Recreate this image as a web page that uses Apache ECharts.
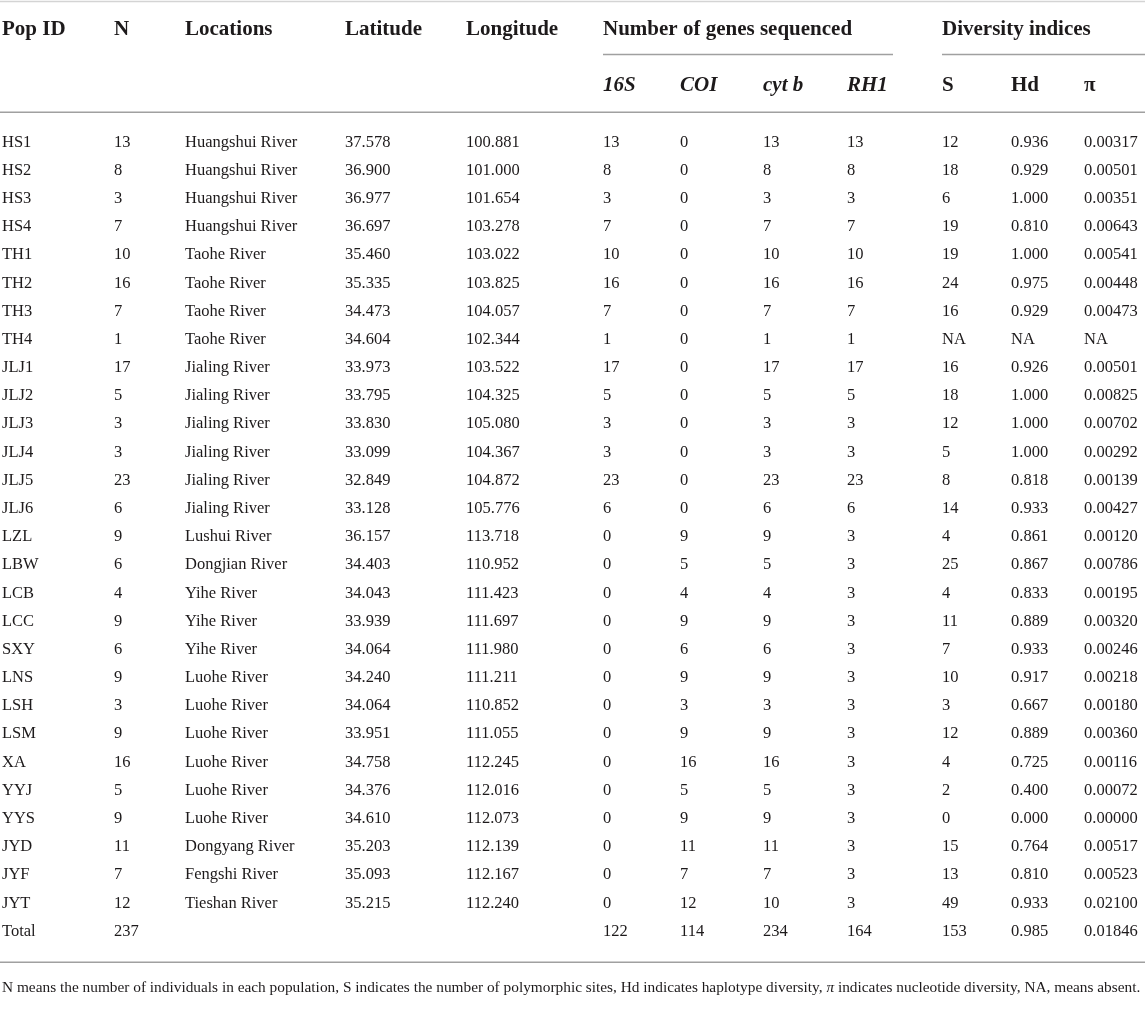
<!DOCTYPE html>
<html lang="en">
<head>
    <meta charset="UTF-8">
    <title>Sampling and diversity table</title>
    <style>
        html, body { margin: 0; padding: 0; background: #fff; }
        #main { width: 1145px; height: 1019px; }
    </style>
</head>
<body>
<div id="main"></div>
<script src="https://cdn.jsdelivr.net/npm/echarts@6/dist/echarts.min.js"></script>
<script>
var popIds = ['HS1', 'HS2', 'HS3', 'HS4', 'TH1', 'TH2', 'TH3', 'TH4', 'JLJ1', 'JLJ2', 'JLJ3', 'JLJ4', 'JLJ5', 'JLJ6',
    'LZL', 'LBW', 'LCB', 'LCC', 'SXY', 'LNS', 'LSH', 'LSM', 'XA', 'YYJ', 'YYS', 'JYD', 'JYF', 'JYT'];
var sampleN = [13, 8, 3, 7, 10, 16, 7, 1, 17, 5, 3, 3, 23, 6, 9, 6, 4, 9, 6, 9, 3, 9, 16, 5, 9, 11, 7, 12];
var locations = ['Huangshui River', 'Huangshui River', 'Huangshui River', 'Huangshui River',
    'Taohe River', 'Taohe River', 'Taohe River', 'Taohe River',
    'Jialing River', 'Jialing River', 'Jialing River', 'Jialing River', 'Jialing River', 'Jialing River',
    'Lushui River', 'Dongjian River', 'Yihe River', 'Yihe River', 'Yihe River',
    'Luohe River', 'Luohe River', 'Luohe River', 'Luohe River', 'Luohe River', 'Luohe River',
    'Dongyang River', 'Fengshi River', 'Tieshan River'];
var latitude = [37.578, 36.900, 36.977, 36.697, 35.460, 35.335, 34.473, 34.604, 33.973, 33.795, 33.830, 33.099, 32.849, 33.128,
    36.157, 34.403, 34.043, 33.939, 34.064, 34.240, 34.064, 33.951, 34.758, 34.376, 34.610, 35.203, 35.093, 35.215];
var longitude = [100.881, 101.000, 101.654, 103.278, 103.022, 103.825, 104.057, 102.344, 103.522, 104.325, 105.080, 104.367, 104.872, 105.776,
    113.718, 110.952, 111.423, 111.697, 111.980, 111.211, 110.852, 111.055, 112.245, 112.016, 112.073, 112.139, 112.167, 112.240];
var gene16S = [13, 8, 3, 7, 10, 16, 7, 1, 17, 5, 3, 3, 23, 6, 0, 0, 0, 0, 0, 0, 0, 0, 0, 0, 0, 0, 0, 0];
var geneCOI = [0, 0, 0, 0, 0, 0, 0, 0, 0, 0, 0, 0, 0, 0, 9, 5, 4, 9, 6, 9, 3, 9, 16, 5, 9, 11, 7, 12];
var geneCytb = [13, 8, 3, 7, 10, 16, 7, 1, 17, 5, 3, 3, 23, 6, 9, 5, 4, 9, 6, 9, 3, 9, 16, 5, 9, 11, 7, 10];
var geneRH1 = [13, 8, 3, 7, 10, 16, 7, 1, 17, 5, 3, 3, 23, 6, 3, 3, 3, 3, 3, 3, 3, 3, 3, 3, 3, 3, 3, 3];
var sitesS = [12, 18, 6, 19, 19, 24, 16, null, 16, 18, 12, 5, 8, 14, 4, 25, 4, 11, 7, 10, 3, 12, 4, 2, 0, 15, 13, 49];
var hapHd = [0.936, 0.929, 1.000, 0.810, 1.000, 0.975, 0.929, null, 0.926, 1.000, 1.000, 1.000, 0.818, 0.933,
    0.861, 0.867, 0.833, 0.889, 0.933, 0.917, 0.667, 0.889, 0.725, 0.400, 0.000, 0.764, 0.810, 0.933];
var nucPi = [0.00317, 0.00501, 0.00351, 0.00643, 0.00541, 0.00448, 0.00473, null, 0.00501, 0.00825, 0.00702, 0.00292, 0.00139, 0.00427,
    0.00120, 0.00786, 0.00195, 0.00320, 0.00246, 0.00218, 0.00180, 0.00360, 0.00116, 0.00072, 0.00000, 0.00517, 0.00523, 0.02100];
// Total row: N, 16S, COI, cyt b, RH1, S, Hd, pi
var totalRow = [237, 122, 114, 234, 164, 153, 0.985, 0.01846];

var headers = ['Pop ID', 'N', 'Locations', 'Latitude', 'Longitude'];
var groupHeaders = ['Number of genes sequenced', 'Diversity indices'];
var subHeaders = ['16S', 'COI', 'cyt b', 'RH1', 'S', 'Hd', 'π'];
var footnote = 'N means the number of individuals in each population, S indicates the number of polymorphic sites, ' +
    'Hd indicates haplotype diversity, {pi|π} indicates nucleotide diversity, NA, means absent.';

// layout
var colX = [2, 114, 185, 345, 466, 603, 680, 763, 847, 942, 1011, 1084];
var FONT = '"Liberation Serif", "DejaVu Serif", serif';
var INK = '#1d1a1b';
var RULE = '#a0a0a0';

function fmt(v, d) {
    if (v === null) return 'NA';
    return d ? v.toFixed(d) : String(v);
}

var cells = [];
function addCell(col, slot, text, style) {
    cells.push({ value: [colX[col], slot], text: text, style: style || 'body' });
}
// header rows
for (var i = 0; i < headers.length; i++) addCell(i, 1, headers[i], 'head');
addCell(5, 1, groupHeaders[0], 'head');
addCell(9, 1, groupHeaders[1], 'head');
for (var i = 0; i < subHeaders.length; i++) addCell(5 + i, 3, subHeaders[i], i < 4 ? 'headItalic' : 'head');
// body rows
for (var r = 0; r < popIds.length; r++) {
    var slot = 5 + r;
    var row = [popIds[r], fmt(sampleN[r]), locations[r], fmt(latitude[r], 3), fmt(longitude[r], 3),
        fmt(gene16S[r]), fmt(geneCOI[r]), fmt(geneCytb[r]), fmt(geneRH1[r]),
        fmt(sitesS[r]), fmt(hapHd[r], 3), fmt(nucPi[r], 5)];
    for (var c = 0; c < row.length; c++) addCell(c, slot, row[c]);
}
var totalSlot = 5 + popIds.length;
addCell(0, totalSlot, 'Total');
addCell(1, totalSlot, fmt(totalRow[0]));
for (var i = 1; i < totalRow.length; i++) {
    var d = i === 6 ? 3 : (i === 7 ? 5 : 0);
    addCell(4 + i, totalSlot, fmt(totalRow[i], d));
}
addCell(0, totalSlot + 2, footnote, 'note');

// rules: [x1, x2, slot, kind]
var rules = [
    [0, 1145, 0, 0],
    [603, 893, 1.88, 1],
    [942, 1145, 1.88, 1],
    [0, 1145, 3.93, 1],
    [0, 1145, totalSlot + 1.1, 1]
];

var fonts = {
    body: '16.5px ' + FONT,
    head: 'bold 21px ' + FONT,
    headItalic: 'italic bold 21px ' + FONT,
    note: '15.35px ' + FONT
};

var chart = echarts.init(document.getElementById('main'), null, { renderer: 'canvas' });
chart.setOption({
    animation: false,
    grid: { left: 0, right: 0, top: 0, bottom: 0 },
    xAxis: { type: 'value', min: 0, max: 1145, show: false },
    yAxis: { type: 'value', min: -0.05, max: 36.11, inverse: true, show: false },
    series: [{
        type: 'custom',
        clip: false,
        silent: true,
        data: rules,
        renderItem: function(params, api) {
            var p1 = api.coord([api.value(0), api.value(2)]);
            var p2 = api.coord([api.value(1), api.value(2)]);
            return {
                type: 'line',
                shape: { x1: p1[0], y1: p1[1], x2: p2[0], y2: p2[1] },
                style: { stroke: api.value(3) ? RULE : '#d4d4d4', lineWidth: 1.5 }
            };
        }
    }, {
        type: 'custom',
        clip: false,
        silent: true,
        data: cells.map(function(c) { return c.value; }),
        renderItem: function(params, api) {
            var p = api.coord([api.value(0), api.value(1)]);
            var cell = cells[params.dataIndex];
            return {
                type: 'text',
                x: p[0],
                y: p[1],
                style: {
                    text: cell.text,
                    font: fonts[cell.style],
                    fill: INK,
                    align: 'left',
                    verticalAlign: 'middle',
                    rich: {
                        pi: { font: 'italic ' + fonts.note, fill: INK }
                    }
                }
            };
        }
    }]
});
</script>
</body>
</html>
